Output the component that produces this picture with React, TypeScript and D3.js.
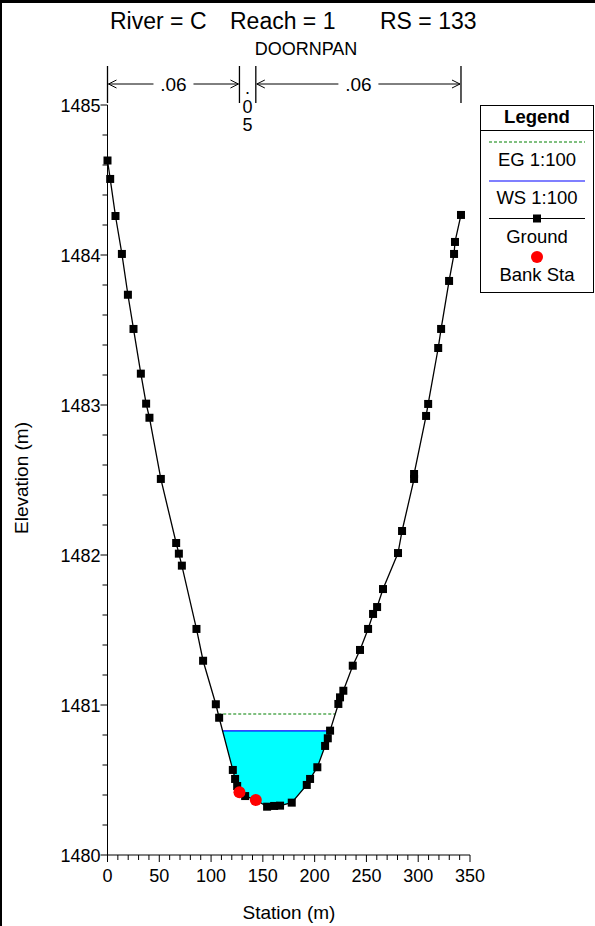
import React from "react";
import * as d3 from "d3";

const stations = [0, 2.6, 7.7, 13.9, 19.7, 25.1, 32.2, 37.3, 40.5, 51.5, 66.3, 68.9, 71.8, 85.9, 92.3, 104.6, 107.8, 121, 123.2, 125.2, 127.4, 132.9, 143.2, 154.1, 160.9, 166.6, 177.9, 192.4, 195.6, 202.6, 210.1, 212.7, 214.9, 222.9, 224.5, 227.7, 236.8, 243.8, 251.6, 256.4, 260.3, 266, 280.5, 284.4, 296, 296, 307.6, 309.6, 319.3, 322.1, 329.8, 334.6, 335.5, 341.3];
const elevations = [1484.63, 1484.507, 1484.26, 1484.007, 1483.735, 1483.507, 1483.209, 1483.009, 1482.915, 1482.507, 1482.08, 1482.009, 1481.929, 1481.507, 1481.295, 1481.005, 1480.915, 1480.567, 1480.507, 1480.46, 1480.418, 1480.393, 1480.367, 1480.322, 1480.327, 1480.329, 1480.349, 1480.467, 1480.507, 1480.585, 1480.727, 1480.778, 1480.829, 1481.007, 1481.051, 1481.095, 1481.262, 1481.367, 1481.507, 1481.607, 1481.653, 1481.773, 1482.013, 1482.16, 1482.507, 1482.54, 1482.927, 1483.007, 1483.38, 1483.507, 1483.827, 1484.007, 1484.087, 1484.267];
const bankStations = [127.4, 143.2];
const bankElevations = [1480.418, 1480.367];
const wsElevation = 1480.827;
const egElevation = 1480.94;
const nBoundaries = [0, 127.4, 143.2, 341.3];
const nValues = [".06", ".05", ".06"];
const xTicks = [0, 50, 100, 150, 200, 250, 300, 350];
const yTicks = [1480, 1481, 1482, 1483, 1484, 1485];

const FONT = "'Liberation Sans', Arial, sans-serif";

function intersections(level: number) {
  const pts = stations.map((s, i) => [s, elevations[i]]);
  const res: number[] = [];
  for (let i = 0; i < pts.length - 1; i++) {
    const [x0, y0] = pts[i];
    const [x1, y1] = pts[i + 1];
    if ((y0 - level) * (y1 - level) <= 0 && y0 !== y1) {
      res.push(x0 + ((level - y0) / (y1 - y0)) * (x1 - x0));
    }
  }
  return res;
}

export default function App() {
  const x = d3.scaleLinear().domain([0, 350]).range([107.5, 470]);
  const y = d3.scaleLinear().domain([1480, 1485]).range([855, 105]);
  const pts: [number, number][] = stations.map((s, i) => [s, elevations[i]]);
  const line = d3.line<[number, number]>().x((d) => x(d[0])).y((d) => y(d[1]));

  const wsX = intersections(wsElevation);
  const wsL = wsX[0];
  const wsR = wsX[wsX.length - 1];
  const egX = intersections(egElevation);
  const egL = egX[0];
  const egR = egX[egX.length - 1];
  const waterPts: [number, number][] = [[wsL, wsElevation]];
  pts.forEach((p) => {
    if (p[0] > wsL && p[0] < wsR) waterPts.push(p);
  });
  waterPts.push([wsR, wsElevation]);

  const xMinor = d3.range(0, 351, 10);
  const yMinor = d3.range(1480, 1485.001, 0.2);

  const nTop = 66;
  const nBot = 103;
  const arrowY = 84;

  const arrowHead = (px: number, dir: number) => (
    <path d={`M${px + dir * 8},${arrowY - 4} L${px},${arrowY} L${px + dir * 8},${arrowY + 4}`} fill="none" stroke="#000" strokeWidth={1} />
  );

  return (
    <svg width={595} height={926} style={{ position: "absolute", left: 0, top: 0, background: "#fff" }} fontFamily={FONT}>
      <rect x={0} y={0} width={595} height={926} fill="#fff" />
      <line x1={0} y1={1.5} x2={595} y2={1.5} stroke="#000" strokeWidth={3} />
      <line x1={1} y1={0} x2={1} y2={926} stroke="#000" strokeWidth={2} />

      {/* Title */}
      <text x={110} y={29} fontSize={23}>River = C</text>
      <text x={230} y={29} fontSize={23}>Reach = 1</text>
      <text x={380} y={29} fontSize={23}>RS = 133</text>
      <text x={306} y={55} fontSize={18} textAnchor="middle">DOORNPAN</text>

      {/* Manning's n */}
      {nBoundaries.map((b, i) => (
        <line key={"nb" + i} x1={x(b)} y1={nTop} x2={x(b)} y2={nBot} stroke="#000" strokeWidth={1.3} />
      ))}
      {nValues.map((v, i) => {
        const a = x(nBoundaries[i]);
        const b = x(nBoundaries[i + 1]);
        const mid = (a + b) / 2;
        if (b - a < 40) {
          return (
            <g key={"nv" + i}>
              <text x={mid} y={94} fontSize={18} textAnchor="middle">{v[0]}</text>
              <text x={mid} y={112.5} fontSize={18} textAnchor="middle">{v[1]}</text>
              <text x={mid} y={131} fontSize={18} textAnchor="middle">{v[2]}</text>
            </g>
          );
        }
        const tw = 40;
        return (
          <g key={"nv" + i}>
            <line x1={a + 1} y1={arrowY} x2={mid - tw / 2} y2={arrowY} stroke="#000" strokeWidth={1} />
            <line x1={mid + tw / 2} y1={arrowY} x2={b - 1} y2={arrowY} stroke="#000" strokeWidth={1} />
            {arrowHead(a + 1, 1)}
            {arrowHead(b - 1, -1)}
            <text x={mid} y={91} fontSize={19} textAnchor="middle">{v}</text>
          </g>
        );
      })}

      {/* Axes */}
      <line x1={x(0)} y1={y(1485)} x2={x(0)} y2={y(1480)} stroke="#000" strokeWidth={1} />
      <line x1={x(0)} y1={y(1480)} x2={x(350)} y2={y(1480)} stroke="#000" strokeWidth={1} />
      {yMinor.map((v, i) => (
        <line key={"ym" + i} x1={x(0) - (i % 5 === 0 ? 7 : 5)} y1={y(v)} x2={x(0)} y2={y(v)} stroke="#000" strokeWidth={1} />
      ))}
      {xMinor.map((v, i) => (
        <line key={"xm" + i} x1={x(v)} y1={y(1480)} x2={x(v)} y2={y(1480) + (i % 5 === 0 ? 7 : 5)} stroke="#000" strokeWidth={1} />
      ))}
      {yTicks.map((v) => (
        <text key={"yt" + v} x={x(0) - 7} y={y(v) + 6.5} fontSize={18} textAnchor="end">{v}</text>
      ))}
      {xTicks.map((v) => (
        <text key={"xt" + v} x={x(v)} y={y(1480) + 27} fontSize={18} textAnchor="middle">{v}</text>
      ))}
      <text x={289} y={919} fontSize={19} textAnchor="middle">Station (m)</text>
      <text transform={`translate(28,478) rotate(-90)`} fontSize={19} textAnchor="middle">Elevation (m)</text>

      {/* Water */}
      <path d={(line(waterPts) || "") + "Z"} fill="#00ffff" stroke="none" />
      <line x1={x(wsL)} y1={y(wsElevation)} x2={x(wsR)} y2={y(wsElevation)} stroke="#0000ff" strokeWidth={1.3} />
      <line x1={x(egL)} y1={y(egElevation)} x2={x(egR)} y2={y(egElevation)} stroke="#008000" strokeWidth={1.2} strokeDasharray="3,2" />

      {/* Ground */}
      <path d={line(pts) || ""} fill="none" stroke="#000" strokeWidth={1.3} />
      {pts.map((p, i) => (
        <rect key={"g" + i} x={x(p[0]) - 4} y={y(p[1]) - 4} width={8} height={8} fill="#000" />
      ))}
      {bankStations.map((b, i) => (
        <circle key={"b" + i} cx={x(b)} cy={y(bankElevations[i])} r={6} fill="#ff0000" />
      ))}

      {/* Legend */}
      <rect x={480.5} y={105.5} width={113} height={187} fill="#fff" stroke="#000" strokeWidth={1} />
      <line x1={480.5} y1={130.5} x2={593.5} y2={130.5} stroke="#000" strokeWidth={1} />
      <text x={537} y={123} fontSize={18.5} fontWeight="bold" textAnchor="middle">Legend</text>
      <line x1={489} y1={142} x2={585} y2={142} stroke="#008000" strokeWidth={1} strokeDasharray="3,2" />
      <text x={537} y={166} fontSize={18.5} textAnchor="middle">EG 1:100</text>
      <line x1={489} y1={181} x2={585} y2={181} stroke="#0000ff" strokeWidth={1.2} />
      <text x={537} y={204} fontSize={18.5} textAnchor="middle">WS 1:100</text>
      <line x1={489} y1={218.5} x2={585} y2={218.5} stroke="#000" strokeWidth={1.2} />
      <rect x={533} y={214.5} width={8} height={8} fill="#000" />
      <text x={537} y={243} fontSize={18.5} textAnchor="middle">Ground</text>
      <circle cx={537} cy={257} r={6} fill="#ff0000" />
      <text x={537} y={281} fontSize={18.5} textAnchor="middle">Bank Sta</text>
    </svg>
  );
}
